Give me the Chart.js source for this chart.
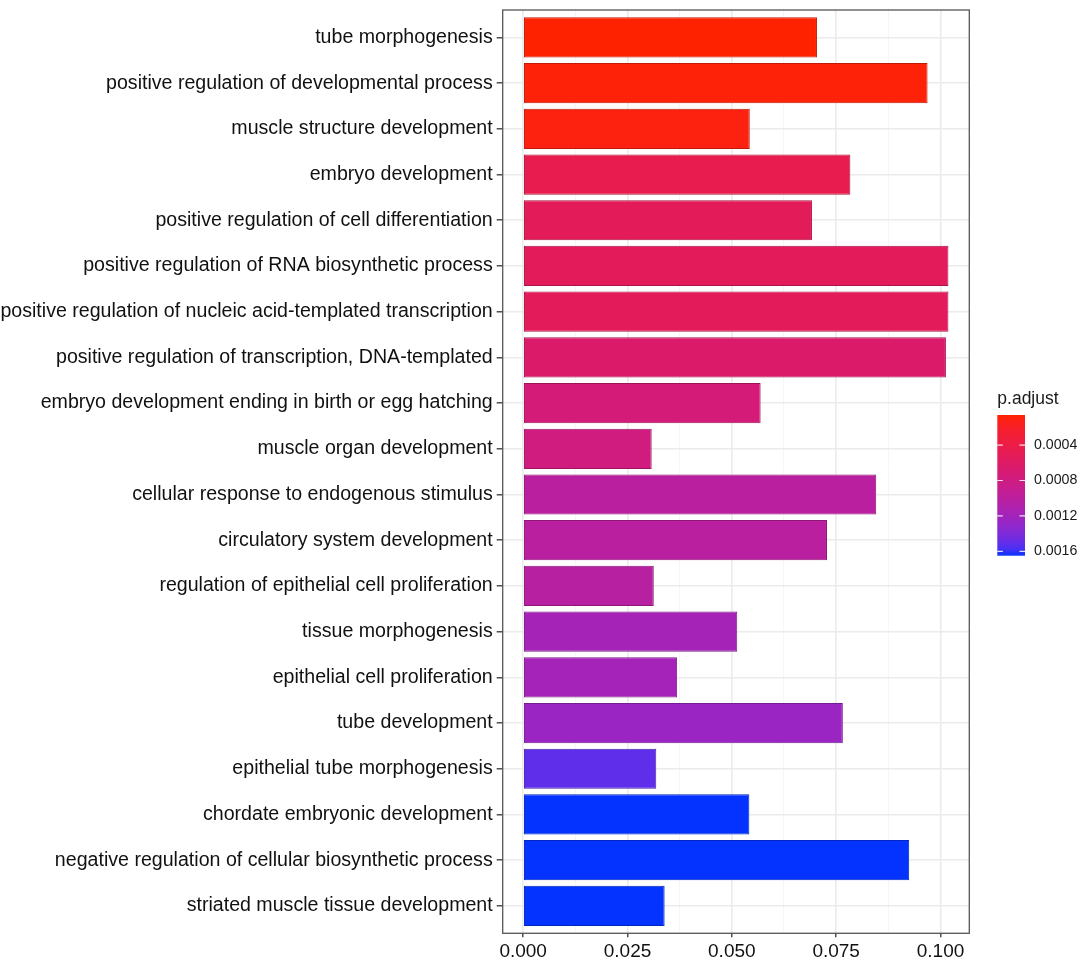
<!DOCTYPE html>
<html>
<head>
<meta charset="utf-8">
<script src="https://cdn.jsdelivr.net/npm/chart.js@4"></script>
<style>
  html, body { margin: 0; padding: 0; background: #fff; }
  #wrap { width: 1084px; height: 966px; }
</style>
</head>
<body>
<div id="wrap"><canvas id="goChart" width="1084" height="966"></canvas></div>
<script>
// GO terms, top to bottom
const terms = [
    'tube morphogenesis',
    'positive regulation of developmental process',
    'muscle structure development',
    'embryo development',
    'positive regulation of cell differentiation',
    'positive regulation of RNA biosynthetic process',
    'positive regulation of nucleic acid-templated transcription',
    'positive regulation of transcription, DNA-templated',
    'embryo development ending in birth or egg hatching',
    'muscle organ development',
    'cellular response to endogenous stimulus',
    'circulatory system development',
    'regulation of epithelial cell proliferation',
    'tissue morphogenesis',
    'epithelial cell proliferation',
    'tube development',
    'epithelial tube morphogenesis',
    'chordate embryonic development',
    'negative regulation of cellular biosynthetic process',
    'striated muscle tissue development'
];
const geneRatio = [0.0704, 0.0969, 0.0543, 0.0784, 0.0692, 0.1019, 0.1019, 0.1013, 0.0569, 0.0308,
                   0.0846, 0.0728, 0.0313, 0.0513, 0.0369, 0.0766, 0.0319, 0.0542, 0.0925, 0.0339];
const pAdjust = [0.00006, 0.00008, 0.00010, 0.00045, 0.00052, 0.00053, 0.00053, 0.00064, 0.00073, 0.00078,
                 0.00101, 0.00101, 0.00103, 0.00117, 0.00118, 0.00125, 0.00152, 0.00165, 0.00165, 0.00165];
const xTicks = [0, 0.025, 0.05, 0.075, 0.1];
const legendTicks = [0.0004, 0.0008, 0.0012, 0.0016];

const FONT = '"Liberation Sans", Arial, sans-serif';
const lowColor = '#FF2200';
const highColor = '#0433FF';

// --- Lab colour interpolation (like ggplot's gradient) ---
function hexToRgb(h) {
    return [parseInt(h.substr(1, 2), 16), parseInt(h.substr(3, 2), 16), parseInt(h.substr(5, 2), 16)];
}
function toLin(c) { c = c / 255; return c <= 0.04045 ? c / 12.92 : Math.pow((c + 0.055) / 1.055, 2.4); }
function fromLin(c) {
    c = c <= 0.0031308 ? 12.92 * c : 1.055 * Math.pow(c, 1 / 2.4) - 0.055;
    return Math.max(0, Math.min(255, Math.round(c * 255)));
}
function rgbToLab(rgb) {
    const r = toLin(rgb[0]), g = toLin(rgb[1]), b = toLin(rgb[2]);
    let x = (0.4124 * r + 0.3576 * g + 0.1805 * b) / 0.95047;
    let y = (0.2126 * r + 0.7152 * g + 0.0722 * b);
    let z = (0.0193 * r + 0.1192 * g + 0.9505 * b) / 1.08883;
    const f = function(t) { return t > 0.008856 ? Math.cbrt(t) : 7.787 * t + 16 / 116; };
    x = f(x); y = f(y); z = f(z);
    return [116 * y - 16, 500 * (x - y), 200 * (y - z)];
}
function labToRgb(lab) {
    const fy = (lab[0] + 16) / 116, fx = fy + lab[1] / 500, fz = fy - lab[2] / 200;
    const inv = function(t) { return t * t * t > 0.008856 ? t * t * t : (t - 16 / 116) / 7.787; };
    const x = inv(fx) * 0.95047, y = inv(fy), z = inv(fz) * 1.08883;
    const r = 3.2406 * x - 1.5372 * y - 0.4986 * z;
    const g = -0.9689 * x + 1.8758 * y + 0.0415 * z;
    const b = 0.0557 * x - 0.2040 * y + 1.0570 * z;
    return [fromLin(r), fromLin(g), fromLin(b)];
}
const labLow = rgbToLab(hexToRgb(lowColor));
const labHigh = rgbToLab(hexToRgb(highColor));
const pMin = Math.min.apply(null, pAdjust);
const pMax = Math.max.apply(null, pAdjust);

function colorFor(p, dark) {
    const t = (p - pMin) / (pMax - pMin);
    const lab = [0, 1, 2].map(function(k) { return labLow[k] + (labHigh[k] - labLow[k]) * t; });
    let rgb = labToRgb(lab);
    if (dark) rgb = rgb.map(function(c) { return Math.round(c * 0.75); });
    return 'rgb(' + rgb.join(',') + ')';
}

// panel border + colourbar legend
const ggExtras = {
    id: 'ggExtras',
    afterDraw: function(chart) {
        const ctx = chart.ctx;
        const a = chart.chartArea;
        ctx.save();
        ctx.strokeStyle = '#555';
        ctx.lineWidth = 1.3;
        ctx.strokeRect(a.left, a.top, a.right - a.left, a.bottom - a.top);

        // colourbar
        const bx = 997.3, bw = 27.7, by = 415, bh = 140.7;
        ctx.fillStyle = '#1a1a1a';
        ctx.font = '17.5px ' + FONT;
        ctx.textAlign = 'left';
        ctx.textBaseline = 'middle';
        ctx.fillText('p.adjust', bx, 399);

        const grad = ctx.createLinearGradient(0, by, 0, by + bh);
        for (let k = 0; k <= 20; k++) {
            grad.addColorStop(k / 20, colorFor(pMin + (pMax - pMin) * k / 20));
        }
        ctx.fillStyle = grad;
        ctx.fillRect(bx, by, bw, bh);

        ctx.font = '14.2px ' + FONT;
        legendTicks.forEach(function(v) {
            const ty = by + (v - pMin) / (pMax - pMin) * bh;
            ctx.strokeStyle = 'rgba(255,255,255,0.85)';
            ctx.lineWidth = 1.2;
            ctx.beginPath();
            ctx.moveTo(bx, ty); ctx.lineTo(bx + 5.5, ty);
            ctx.moveTo(bx + bw - 5.5, ty); ctx.lineTo(bx + bw, ty);
            ctx.stroke();
            ctx.fillStyle = '#1a1a1a';
            ctx.fillText(v.toFixed(4), 1034, ty);
        });
        ctx.restore();
    }
};

const ctx = document.getElementById('goChart').getContext('2d');
new Chart(ctx, {
    type: 'bar',
    data: {
        datasets: [{
            data: geneRatio.map(function(v, i) { return { x: v, y: i }; }),
            backgroundColor: pAdjust.map(function(p) { return colorFor(p); }),
            borderColor: pAdjust.map(function(p) { return colorFor(p, true); }),
            borderWidth: 1,
            borderSkipped: false,
            barPercentage: 0.88,
            categoryPercentage: 1
        }]
    },
    options: {
        indexAxis: 'y',
        responsive: false,
        animation: false,
        devicePixelRatio: 1,
        layout: { padding: { left: 0, top: 10, right: 114.7, bottom: 0 } },
        plugins: { legend: { display: false }, tooltip: { enabled: false } },
        scales: {
            x: {
                type: 'linear',
                min: -0.0049,
                max: 0.1069,
                afterBuildTicks: function(scale) {
                    const t = [];
                    xTicks.forEach(function(v, i) {
                        t.push({ value: v });
                        if (i < xTicks.length - 1) t.push({ value: (v + xTicks[i + 1]) / 2 });
                    });
                    scale.ticks = t;
                },
                afterFit: function(scale) { scale.height = 32.7; },
                border: { display: false },
                grid: {
                    color: function(c) { return c.index % 2 === 0 ? '#EBEBEB' : '#F4F4F4'; },
                    lineWidth: function(c) { return c.index % 2 === 0 ? 1.6 : 0.8; },
                    tickColor: function(c) { return c.index % 2 === 0 ? '#333' : 'rgba(0,0,0,0)'; },
                    tickLength: 4,
                    tickWidth: 1.3
                },
                ticks: {
                    autoSkip: false,
                    maxRotation: 0,
                    padding: 3,
                    color: '#111',
                    font: { family: FONT, size: 19 },
                    callback: function(v, i) { return i % 2 === 0 ? v.toFixed(3) : ''; }
                }
            },
            y: {
                type: 'linear',
                reverse: true,
                offset: false,
                min: -0.6,
                max: terms.length - 0.4,
                afterBuildTicks: function(scale) {
                    scale.ticks = terms.map(function(t, i) { return { value: i }; });
                },
                afterFit: function(scale) {
                    scale.width = 502.7;
                    scale.paddingTop = 0;
                    scale.paddingBottom = 0;
                },
                border: { display: false },
                grid: {
                    offset: false,
                    color: '#EBEBEB',
                    lineWidth: 1.6,
                    tickColor: '#333',
                    tickLength: 6,
                    tickWidth: 1.3
                },
                ticks: {
                    autoSkip: false,
                    padding: 4,
                    color: '#111',
                    font: { family: FONT, size: 19.6 },
                    callback: function(v) { return terms[v]; }
                }
            }
        }
    },
    plugins: [ggExtras]
});
</script>
</body>
</html>
